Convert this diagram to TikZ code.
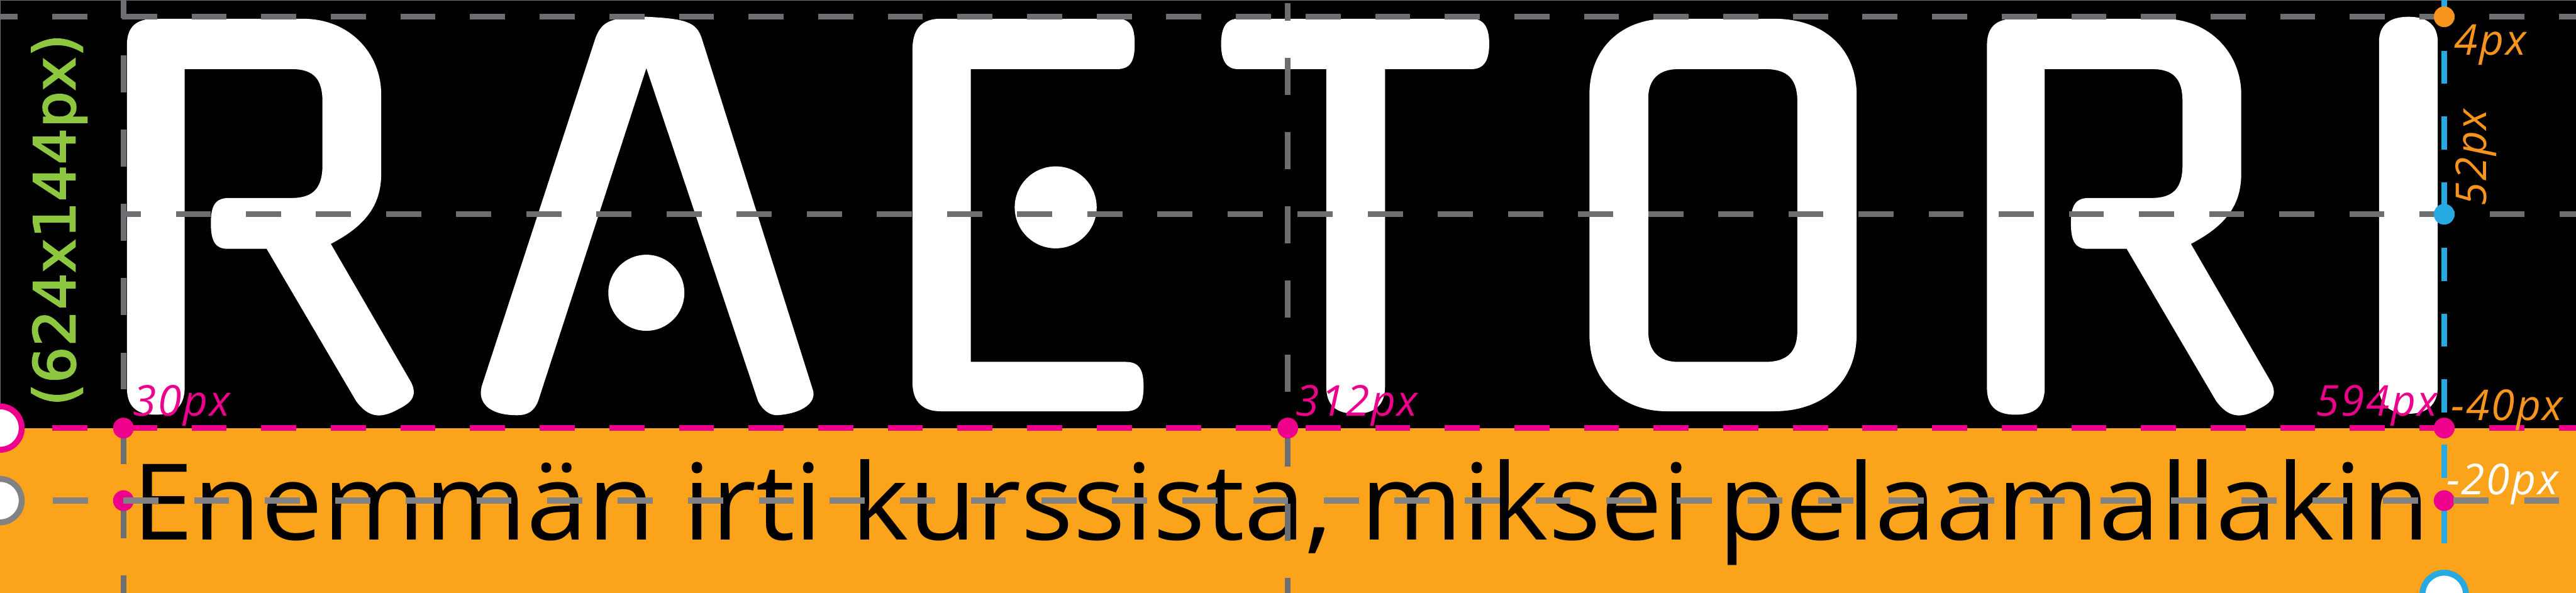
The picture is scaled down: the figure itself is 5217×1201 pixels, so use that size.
\documentclass[tikz,border=0pt]{standalone}
\usepackage{graphicx}
\usepackage{fontspec}
\setmainfont{Open Sans}
\newfontfamily\sizefont[FakeBold=2.5, LetterSpace=0.8]{DejaVu Sans}
\usepackage{xcolor}
\definecolor{bannerorange}{HTML}{FBA31B}
\definecolor{labelorange}{HTML}{F7941E}
\definecolor{guidemagenta}{HTML}{EC008C}
\definecolor{guidecyan}{HTML}{27AAE1}
\definecolor{guidedark}{HTML}{6D6E71}
\definecolor{guidemid}{HTML}{808285}
\definecolor{sizegreen}{HTML}{8DC63F}
\tikzset{
  rowtop/.style={line width=1.1mm, dash pattern=on 7.1mm off 7mm, dash phase=3.5mm},
  coltop/.style={guidedark, line width=1.2mm, dash pattern=on 7.5mm off 7.55mm},
  marker/.style={circle, draw=none, inner sep=0pt, minimum size=4.2mm},
  ring/.style={circle, fill=white, line width=1.2mm, inner sep=0pt, minimum size=8.8mm},
  pxlabel/.style={inner sep=0pt, anchor=base west, font=\fontsize{24.5}{24.5}\selectfont\itshape\addfontfeature{LetterSpace=3.8}},
  rletter/.pic={
    \fill[white] (257,92) .. controls (257,55) and (275,38) .. (314,38) -- (613,38) .. controls (710,38) and (772,110) .. (772,191) -- (772,352) .. controls (772,420) and (735,460) .. (670,494) -- (833,775) .. controls (845,800) and (835,815) .. (808,828) .. controls (770,850) and (745,845) .. (721,812) -- (540,504) -- (461,504) .. controls (437,504) and (427,490) .. (427,452) .. controls (427,415) and (437,401) .. (464,401) -- (591,401) .. controls (635,401) and (653,380) .. (653,335) -- (653,205) .. controls (653,160) and (635,140) .. (591,140) -- (374,140) -- (374,785) .. controls (374,822) and (355,840) .. (315,840) .. controls (275,840) and (257,822) .. (257,785) -- cycle;
  }
}
\begin{document}
\begin{tikzpicture}[x=0.1mm, y=-0.1mm]
  \useasboundingbox (0,0) rectangle (5217,1201);
  \fill[black] (0,0) rectangle (5217,867);
  \fill[bannerorange] (0,867) rectangle (5217,1201);
  \draw[guidedark, line width=0.2mm] (0,867) -- (0,0) -- (5217,0);

  \pic at (0,0) {rletter};
  \pic at (3767,0) {rletter};
  \fill[white] (976,781) -- (1206,77) .. controls (1220,40) and (1240,36) .. (1309,34) .. controls (1390,38) and (1410,45) .. (1421,77) -- (1646,789) .. controls (1655,815) and (1625,838) .. (1573,841) .. controls (1560,841) and (1545,832) .. (1535,812) -- (1309,138) -- (1090,812) .. controls (1082,832) and (1070,841) .. (1047,841) .. controls (990,841) and (966,815) .. (976,781) -- cycle;
  \fill[white] (1309,593) circle (77);
  \fill[white] (1848,100) .. controls (1848,55) and (1870,38) .. (1905,38) -- (2262,38) .. controls (2290,38) and (2298,55) .. (2298,89) .. controls (2298,123) and (2290,140) .. (2262,140) -- (1966,140) -- (1966,733) -- (2280,733) .. controls (2308,733) and (2316,750) .. (2316,783) .. controls (2316,816) and (2308,833) .. (2280,833) -- (1905,833) .. controls (1870,833) and (1848,815) .. (1848,775) -- cycle;
  \fill[white] (2138,420) circle (83);
  \fill[white] (2507,38) -- (2980,38) .. controls (3005,38) and (3016,55) .. (3016,89) .. controls (3016,123) and (3005,140) .. (2980,140) -- (2805,140) -- (2805,783) .. controls (2805,820) and (2785,838) .. (2745,838) .. controls (2705,838) and (2686,820) .. (2686,783) -- (2686,140) -- (2507,140) .. controls (2484,140) and (2473,123) .. (2473,89) .. controls (2473,55) and (2484,38) .. (2507,38) -- cycle;
  \fill[white, even odd rule] (3219,191) .. controls (3219,100) and (3282,38) .. (3376,38) -- (3593,38) .. controls (3695,38) and (3760,100) .. (3760,191) -- (3760,678) .. controls (3760,770) and (3695,833) .. (3593,833) -- (3376,833) .. controls (3282,833) and (3219,770) .. (3219,678) -- cycle
    (3338,200) .. controls (3338,160) and (3360,140) .. (3399,140) -- (3575,140) .. controls (3620,140) and (3640,160) .. (3640,205) -- (3640,670) .. controls (3640,712) and (3620,733) .. (3575,733) -- (3399,733) .. controls (3360,733) and (3338,712) .. (3338,670) -- cycle;
  \fill[white] (4818,85) .. controls (4818,50) and (4840,34) .. (4878,34) .. controls (4915,34) and (4937,50) .. (4937,85) -- (4937,783) .. controls (4937,820) and (4915,838) .. (4878,838) .. controls (4840,838) and (4818,820) .. (4818,783) -- cycle;

  \node[inner sep=0pt, anchor=base west, font=\fontsize{61}{61}\selectfont] (slogan) at (268,1094) {\resizebox{465.2mm}{\height}{Enemmän irti kurssista, miksei pelaamallakin}};

  \coordinate (topL) at (0,34);
  \coordinate (topR) at (5217,34);
  \coordinate (midL) at (250,434);
  \coordinate (midR) at (5217,434);
  \coordinate (baseL) at (0,867);
  \coordinate (baseR) at (5217,867);
  \coordinate (subL) at (0,1014);
  \coordinate (subR) at (5183,1014);
  \coordinate (colaT) at (250,0);
  \coordinate (colaB) at (250,1201);
  \coordinate (colbT) at (2608,6);
  \coordinate (colbB) at (2608,1201);
  \coordinate (colcT) at (4950,0);
  \coordinate (colcB) at (4950,1201);

  \draw[guidedark, rowtop] (topL) -- (topR);
  \draw[guidedark, line width=1.2mm, dash pattern=on 7.1mm off 7.1mm, dash phase=3.6mm] (midL) -- (midR);
  \draw[guidemagenta, rowtop, line width=1.2mm] (baseL) -- (baseR);
  \draw[coltop, dash phase=3.85mm] (colaT) -- (colaB);
  \draw[coltop, dash phase=3.95mm] (colbT) -- (colbB);
  \draw[guidecyan, line width=1.2mm, dash pattern=on 6.7mm off 6.6mm, dash phase=3mm] (colcT) -- (colcB);

  \node[marker, fill=guidemagenta] (dotbaseL) at (250,867) {};
  \node[marker, fill=guidemagenta] (dotbaseM) at (2608,867) {};
  \node[marker, fill=guidemagenta] (dotbaseR) at (4950,867) {};
  \node[marker, fill=guidemagenta] (dotsubL) at (250,1014) {};
  \node[marker, fill=guidemagenta] (dotsubR) at (4950,1014) {};
  \node[marker, fill=labelorange] (dottop) at (4950,34) {};
  \node[marker, fill=guidecyan] (dotmid) at (4950,434) {};

  \draw[guidemid, line width=1.2mm, dash pattern=on 7.1mm off 7.2mm, dash phase=3.6mm] (subL) -- (subR);

  \node[ring, draw=guidemagenta] (ringbase) at (0,867) {};
  \node[ring, draw=guidemid] (ringsub) at (0,1014) {};
  \node[ring, draw=guidecyan] (ringcol) at (4950,1204) {};

  \node[pxlabel, guidemagenta] (lblleft) at (269,842) {30px};
  \node[pxlabel, guidemagenta] (lblmid) at (2624,842) {312px};
  \node[pxlabel, guidemagenta] (lblright) at (4690,842) {594px};
  \node[pxlabel, labelorange] (lblbase) at (4964,851) {-40px};
  \node[pxlabel, white] (lblsub) at (4954,1002) {-20px};
  \node[pxlabel, labelorange] (lbltop) at (4970,112) {4px};
  \node[pxlabel, labelorange, rotate=90] (lblheight) at (5035,418) {52px};
  \node[inner sep=0pt, anchor=base west, rotate=90, sizegreen, font=\fontsize{33}{33}\selectfont\sizefont] (lblsize) at (152,823) {(624x144px)};
\end{tikzpicture}
\end{document}
